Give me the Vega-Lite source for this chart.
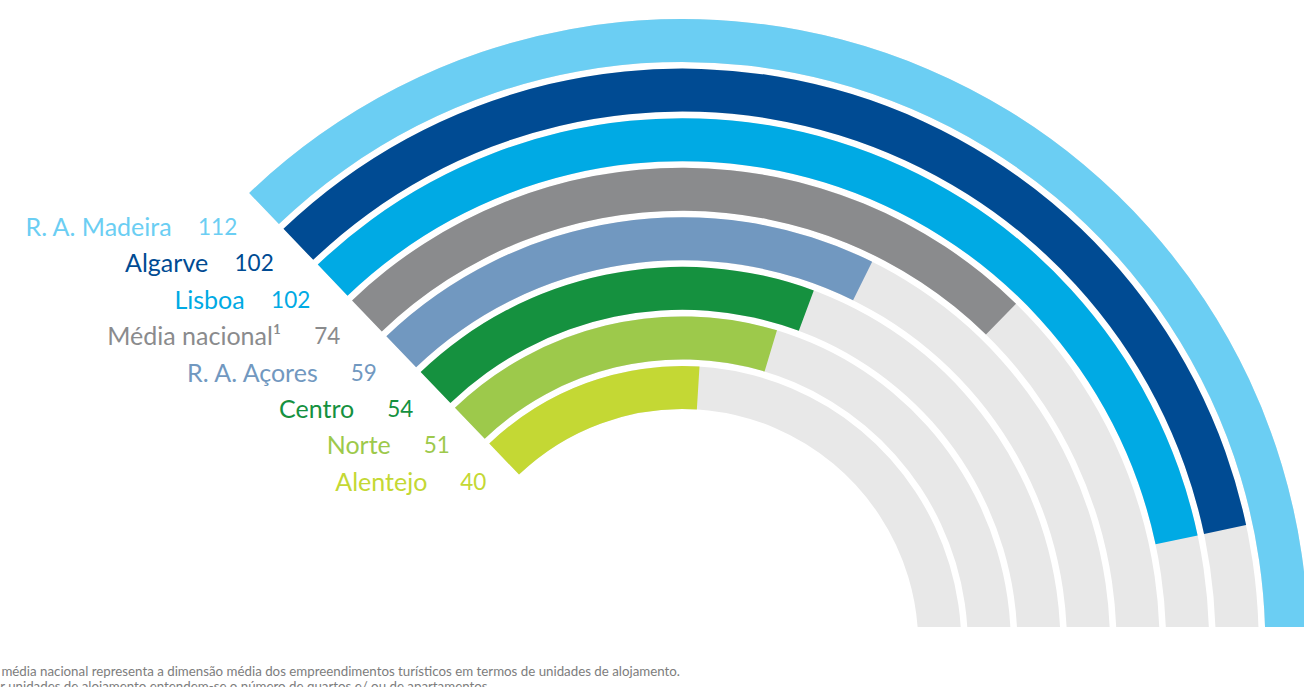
{
  "$schema": "https://vega.github.io/schema/vega-lite/v6.json",
  "autosize": {"type": "none"},
  "width": 1304,
  "height": 627,
  "padding": {"left": 0, "top": 0, "right": 0, "bottom": 60},
  "background": "white",
  "config": {"view": {"stroke": null}},
  "title": {
    "text": [
      "¹A média nacional representa a dimensão média dos empreendimentos turísticos em termos de unidades de alojamento.",
      "Por unidades de alojamento entendem-se o número de quartos e/ ou de apartamentos."
    ],
    "orient": "bottom",
    "anchor": "start",
    "frame": "group",
    "offset": 38,
    "dx": -15,
    "font": "Lato",
    "fontSize": 13.3,
    "fontWeight": "normal",
    "color": "#7d7d7d",
    "lineHeight": 15
  },
  "data": {
    "values": [
      {"regiao": "R. A. Madeira", "valor": 112, "anel": 7},
      {"regiao": "Algarve", "valor": 102, "anel": 6},
      {"regiao": "Lisboa", "valor": 102, "anel": 5},
      {"regiao": "Média nacional¹", "valor": 74, "anel": 4},
      {"regiao": "R. A. Açores", "valor": 59, "anel": 3},
      {"regiao": "Centro", "valor": 54, "anel": 2},
      {"regiao": "Norte", "valor": 51, "anel": 1},
      {"regiao": "Alentejo", "valor": 40, "anel": 0}
    ]
  },
  "resolve": {"scale": {"radius": "independent"}},
  "encoding": {
    "x": {"datum": 0, "type": "quantitative", "scale": {"domain": [-682.3, 621.7], "nice": false, "zero": false}, "axis": null},
    "y": {"datum": 0, "type": "quantitative", "scale": {"domain": [18, 645], "nice": false, "zero": false}, "axis": null},
    "color": {
      "field": "regiao",
      "type": "nominal",
      "legend": null,
      "scale": {
        "domain": ["R. A. Madeira", "Algarve", "Lisboa", "Média nacional¹", "R. A. Açores", "Centro", "Norte", "Alentejo"],
        "range": ["#6BCEF3", "#004B93", "#00AAE4", "#8A8B8D", "#7198C0", "#15913F", "#9DC94B", "#C4D834"]
      }
    }
  },
  "layer": [
    {
      "mark": {"type": "arc", "clip": true, "radiusOffset": 43, "fill": "#E8E8E8"},
      "encoding": {
        "theta": {"datum": 0.6, "type": "quantitative", "scale": {"domain": [0, 112], "range": [-0.7767, 1.5708], "nice": false, "zero": false}},
        "theta2": {"datum": 112},
        "radius": {"field": "anel", "type": "quantitative", "scale": {"type": "linear", "domain": [0, 7], "range": [236, 583], "zero": false, "nice": false}},
        "radius2": {"field": "anel"}
      }
    },
    {
      "mark": {"type": "arc", "clip": true, "radiusOffset": 43},
      "encoding": {
        "theta": {"field": "valor", "type": "quantitative", "stack": null, "scale": {"domain": [0, 112], "range": [-0.7767, 1.5708], "nice": false, "zero": false}},
        "theta2": {"datum": 0.6},
        "radius": {"field": "anel", "type": "quantitative", "scale": {"type": "linear", "domain": [0, 7], "range": [236, 583], "zero": false, "nice": false}},
        "radius2": {"field": "anel"}
      }
    },
    {
      "mark": {"type": "text", "align": "center", "baseline": "middle", "dy": 46, "font": "Lato", "fontSize": 22.5},
      "encoding": {
        "theta": {"datum": -0.5, "type": "quantitative"},
        "radius": {"field": "anel", "type": "quantitative", "scale": {"type": "linear", "domain": [0, 7], "range": [295, 656], "zero": false, "nice": false}},
        "text": {"field": "valor", "type": "quantitative"}
      }
    },
    {
      "mark": {"type": "text", "align": "right", "baseline": "middle", "dx": -46, "dy": 46, "font": "Lato", "fontSize": 25},
      "encoding": {
        "theta": {"datum": -0.5, "type": "quantitative"},
        "radius": {"field": "anel", "type": "quantitative", "scale": {"type": "linear", "domain": [0, 7], "range": [295, 656], "zero": false, "nice": false}},
        "text": {"field": "regiao", "type": "nominal"}
      }
    }
  ]
}
